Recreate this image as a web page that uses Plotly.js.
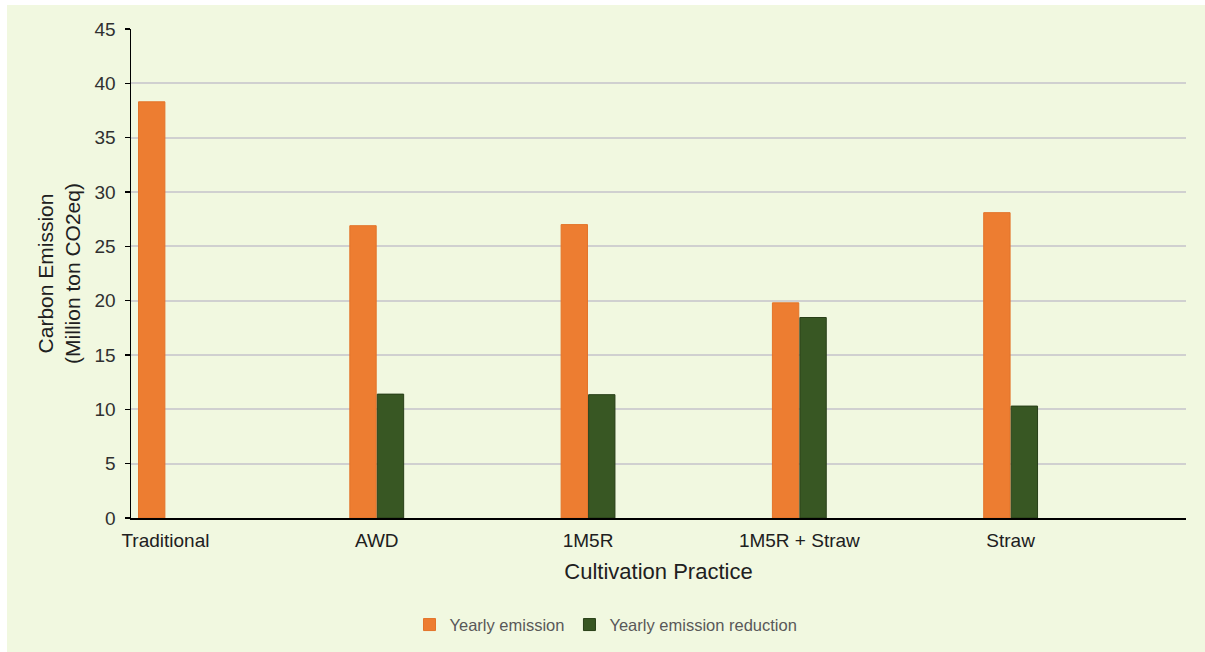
<!DOCTYPE html>
<html>
<head>
<meta charset="utf-8">
<script src="https://cdn.plot.ly/plotly-3.0.1.min.js"></script>
<style>
  html, body { margin: 0; padding: 0; background: #ffffff; width: 1205px; height: 652px; overflow: hidden; }
  #chart { position: absolute; left: 7px; top: 5px; width: 1198px; height: 647px; }
</style>
</head>
<body>
<div id="chart"></div>
<script>
// Cultivation practices and their yearly carbon figures (million ton CO2eq)
const practices = ["Traditional", "AWD", "1M5R", "1M5R + Straw", "Straw"];
const yearlyEmission = [38.3, 26.9, 27.0, 19.8, 28.1];
const yearlyReduction = [null, 11.4, 11.35, 18.45, 10.3];
const yTicks = [0, 5, 10, 15, 20, 25, 30, 35, 40, 45];

const bg = "#F1F8E0";
const font = "Liberation Sans, Arial, sans-serif";

const traces = [
  {
    type: "bar",
    name: "Yearly emission",
    x: practices,
    y: yearlyEmission,
    marker: { color: "#ED7D31", line: { color: "#E3742A", width: 1 } },
    hoverinfo: "x+y"
  },
  {
    type: "bar",
    name: "Yearly emission reduction",
    x: practices,
    y: yearlyReduction,
    marker: { color: "#385723", line: { color: "#283F18", width: 1 } },
    hoverinfo: "x+y"
  }
];

const layout = {
  width: 1198,
  height: 647,
  paper_bgcolor: bg,
  plot_bgcolor: bg,
  margin: { l: 124, r: 19, t: 24, b: 134 },
  barmode: "group",
  bargap: 0.74,
  bargroupgap: 0.04,
  font: { family: font, color: "#303030" },
  xaxis: {
    type: "category",
    range: [-0.163, 4.83],
    showgrid: false,
    zeroline: false,
    showline: true,
    linecolor: "#000000",
    linewidth: 1.5,
    ticks: "",
    tickfont: { size: 19, color: "#202020" },
    ticklabelstandoff: 5,
    title: { text: "Cultivation Practice", font: { size: 22, color: "#202020" }, standoff: 13 },
    fixedrange: true
  },
  yaxis: {
    range: [0, 45],
    tickvals: yTicks,
    showgrid: true,
    gridcolor: "#D0D0D0",
    gridwidth: 2,
    zeroline: false,
    showline: true,
    linecolor: "#000000",
    linewidth: 1.5,
    ticks: "outside",
    ticklen: 5,
    tickcolor: "#000000",
    tickwidth: 1.5,
    tickfont: { size: 19, color: "#303030" },
    ticklabelstandoff: 5,
    title: { text: "Carbon Emission<br>(Million ton CO2eq)", font: { size: 21, color: "#202020" }, standoff: 8 },
    fixedrange: true
  },
  showlegend: true,
  legend: {
    orientation: "h",
    xref: "container",
    yref: "container",
    x: 0.500,
    xanchor: "center",
    y: 0.042,
    yanchor: "middle",
    bgcolor: "rgba(0,0,0,0)",
    font: { size: 16.5, color: "#595959" },
    itemwidth: 30,
    traceorder: "normal"
  }
};

Plotly.newPlot("chart", traces, layout, { displayModeBar: false, staticPlot: true });
</script>
</body>
</html>
